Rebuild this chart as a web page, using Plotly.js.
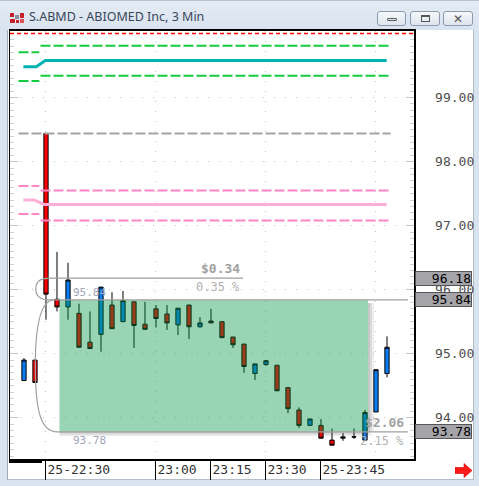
<!DOCTYPE html>
<html>
<head>
<meta charset="utf-8">
<script src="https://cdn.plot.ly/plotly-3.0.1.min.js"></script>
<style>
  html, body { margin: 0; padding: 0; }
  body { width: 479px; height: 486px; position: relative; overflow: hidden;
         background: #d8e3f0; font-family: "Noto Sans", "DejaVu Sans", sans-serif; }
  #titlebar { position: absolute; left: 0; top: 0; width: 479px; height: 30px;
              background: linear-gradient(#e4ebf4, #d9e3ef); border-top: 1px solid #b9c4d2; box-sizing: border-box; }
  #title { position: absolute; left: 29px; top: 7px; font-size: 12.5px; color: #3a4658; white-space: nowrap; }
  .ico { position: absolute; background: #c8202a; }
  .btn { position: absolute; top: 10px; height: 15px; border: 1px solid #8d9aae; border-radius: 3px;
         box-sizing: border-box; background: linear-gradient(#f6f8fb, #dde5ee); }
  #client { position: absolute; left: 7px; top: 30px; width: 467px; height: 450px; background: #fff;
            border-left: 1px solid #9ea9b8; border-right: 1px solid #b3bdca; border-bottom: 1px solid #b3bdca; box-sizing: border-box; }
  #chart { position: absolute; left: 0; top: 0; width: 479px; height: 486px; }
  #scrollmark { position: absolute; left: 9px; top: 460px; width: 33px; height: 3px; background: #000; }
  #arrow { position: absolute; left: 455px; top: 463px; }
</style>
</head>
<body>
<div id="titlebar">
  <div class="ico" style="left:10px;top:12px;width:4px;height:4px;"></div>
  <div class="ico" style="left:15px;top:14px;width:4px;height:4px;background:#8a8f99"></div>
  <div class="ico" style="left:20px;top:12px;width:4px;height:5px;"></div>
  <div class="ico" style="left:10px;top:18px;width:5px;height:4px;"></div>
  <div class="ico" style="left:16px;top:19px;width:3px;height:3px;"></div>
  <div class="ico" style="left:20px;top:18px;width:4px;height:4px;background:#e0505a"></div>
  <div id="title">S.ABMD - ABIOMED Inc, 3 Min</div>
  <div class="btn" style="left:377px;width:29px;">
    <div style="position:absolute;left:9px;top:6px;width:10px;height:3px;border:1px solid #555;border-radius:1px;box-sizing:border-box;"></div>
  </div>
  <div class="btn" style="left:410px;width:30px;">
    <div style="position:absolute;left:10px;top:3px;width:9px;height:7px;border:1px solid #555;border-top-width:2px;box-sizing:border-box;"></div>
  </div>
  <div class="btn" style="left:443px;width:30px;">
    <div style="position:absolute;left:0;top:-2px;width:28px;text-align:center;font-size:12px;font-weight:bold;color:#555;">&#x2715;</div>
  </div>
</div>
<div id="client"></div>
<div id="chart"></div>
<div id="scrollmark"></div>
<svg id="arrow" width="18" height="15" viewBox="0 0 18 15">
  <polygon points="0,4.5 9,4.5 9,0.5 17,7.5 9,14.5 9,10.5 0,10.5" fill="#ff1a1a" stroke="#d00000" stroke-width="0.6"/>
</svg>
<script>
// ---- 3-minute bars, S.ABMD ----
const candleTimes = [
  '2021-01-25 22:24', '2021-01-25 22:27', '2021-01-25 22:30', '2021-01-25 22:33',
  '2021-01-25 22:36', '2021-01-25 22:39', '2021-01-25 22:42', '2021-01-25 22:45',
  '2021-01-25 22:48', '2021-01-25 22:51', '2021-01-25 22:54', '2021-01-25 22:57',
  '2021-01-25 23:00', '2021-01-25 23:03', '2021-01-25 23:06', '2021-01-25 23:09',
  '2021-01-25 23:12', '2021-01-25 23:15', '2021-01-25 23:18', '2021-01-25 23:21',
  '2021-01-25 23:24', '2021-01-25 23:27', '2021-01-25 23:30', '2021-01-25 23:33',
  '2021-01-25 23:36', '2021-01-25 23:39', '2021-01-25 23:42', '2021-01-25 23:45',
  '2021-01-25 23:48', '2021-01-25 23:51', '2021-01-25 23:54', '2021-01-25 23:57',
  '2021-01-26 00:00', '2021-01-26 00:03'
];
const openP  = [94.58, 94.90, 98.44, 95.85, 95.73, 95.63, 95.18, 95.30, 95.76, 95.50, 95.81, 95.46,
                95.70, 95.62, 95.45, 95.76, 95.42, 95.51, 95.50, 95.26, 95.15, 94.69, 94.83, 94.82,
                94.47, 94.12, 93.88, 93.88, 93.65, 93.68, 93.70, 93.65, 94.09, 94.69];
const highP  = [94.93, 94.90, 98.44, 96.59, 96.42, 95.78, 95.66, 96.04, 95.96, 95.98, 95.81, 95.81,
                95.76, 95.76, 95.71, 95.76, 95.57, 95.70, 95.50, 95.26, 95.15, 94.84, 94.90, 94.82,
                94.47, 94.16, 93.98, 93.98, 93.83, 93.76, 93.83, 94.12, 94.75, 95.27];
const lowP   = [94.58, 94.55, 95.53, 95.66, 95.53, 95.10, 95.08, 95.03, 95.39, 95.50, 95.09, 95.38,
                95.41, 95.37, 95.29, 95.23, 95.41, 95.48, 95.25, 95.09, 94.70, 94.59, 94.81, 94.42,
                94.07, 93.84, 93.88, 93.68, 93.57, 93.64, 93.67, 93.65, 94.09, 94.63];
const closeP = [94.90, 94.55, 95.93, 95.73, 96.15, 95.10, 95.08, 96.04, 95.39, 95.83, 95.44, 95.38,
                95.55, 95.48, 95.71, 95.42, 95.48, 95.48, 95.25, 95.14, 94.80, 94.84, 94.89, 94.42,
                94.14, 93.88, 93.98, 93.68, 93.57, 93.70, 93.70, 94.08, 94.75, 95.10];

// ---- band levels (old session segment, gap, new session segment) ----
const levelTimes  = ['2021-01-25 22:22:30', '2021-01-25 22:28:10', null, '2021-01-25 22:28:30', '2021-01-26 00:04:00'];
const greenUpper  = [99.71, 99.71, null, 99.81, 99.81];
const greenLower  = [99.26, 99.26, null, 99.34, 99.34];
const pinkUpper   = [97.62, 97.62, null, 97.55, 97.55];
const pinkLower   = [97.18, 97.18, null, 97.08, 97.08];
const grayTimes   = ['2021-01-25 22:22:30', '2021-01-26 00:04:00'];
const grayLevel   = [98.44, 98.44];
const tealTimes   = ['2021-01-25 22:23:50', '2021-01-25 22:27:20', '2021-01-25 22:29:50', '2021-01-26 00:02:55'];
const tealMid     = [99.48, 99.48, 99.58, 99.58];
const pinkMidTimes = ['2021-01-25 22:23:50', '2021-01-25 22:26:50', '2021-01-25 22:29:30', '2021-01-26 00:02:55'];
const pinkMid     = [97.40, 97.40, 97.33, 97.33];
const topAlert    = 100.00;

// ---- price tags on the right scale ----
const priceTags = [96.18, 95.84, 93.78];

// ---- measuring tool: [upper, lower] price pairs ----
const measureA = [96.18, 95.84];
const measureB = [95.84, 93.78];
const boxTimes = ['2021-01-25 22:33:40', '2021-01-25 23:57:50'];

// ---- axes ----
const xRange = ['2021-01-25 22:20:11', '2021-01-26 00:10:22'];
const yRange = [93.355, 100.04];
const tickTimes  = ['2021-01-25 22:30', '2021-01-25 23:00', '2021-01-25 23:15', '2021-01-25 23:30', '2021-01-25 23:45'];
const tickLabels = ['25-22:30', '23:00', '23:15', '23:30', '25-23:45'];
const yTicks = [94, 95, 96, 97, 98, 99];

const mono = 'DejaVu Sans Mono, Liberation Mono, monospace';
const p = s => s.replace(' ', '_');   // date format used inside shape paths

function levelTrace(x, y, color, width, dash) {
  return { type: 'scatter', mode: 'lines', x: x, y: y, connectgaps: false, hoverinfo: 'skip',
           line: { color: color, width: width, dash: dash } };
}

const traces = [
  levelTrace(levelTimes, greenUpper, '#14cc40', 2, '10px,3px'),
  levelTrace(levelTimes, greenLower, '#14cc40', 2, '10px,3px'),
  levelTrace(tealTimes, tealMid, '#00b2b4', 3, 'solid'),
  levelTrace(grayTimes, grayLevel, '#a4a4a4', 2, '10px,3px'),
  levelTrace(levelTimes, pinkUpper, '#ff86c6', 2, '10px,3px'),
  levelTrace(levelTimes, pinkLower, '#ff86c6', 2, '10px,3px'),
  levelTrace(pinkMidTimes, pinkMid, '#ffaed8', 3, 'solid'),
  {
    type: 'candlestick', x: candleTimes, open: openP, high: highP, low: lowP, close: closeP,
    increasing: { fillcolor: '#0a7df5', line: { color: '#000000', width: 1 } },
    decreasing: { fillcolor: '#ff0000', line: { color: '#000000', width: 1 } },
    whiskerwidth: 0, hoverinfo: 'skip'
  }
];

// measuring box: translucent green with a soft drop shadow
const shapes = [
  { type: 'line', xref: 'paper', x0: 0, x1: 1, yref: 'y', y0: topAlert, y1: topAlert,
    line: { color: '#ff0000', width: 1.5, dash: '4px,3px' }, layer: 'above' }
];
const shadowLevels = [0.32, 0.2, 0.1];
shadowLevels.forEach((op, i) => {
  shapes.push({ type: 'rect', xref: 'x', xsizemode: 'pixel', xanchor: boxTimes[1], x0: i * 2, x1: i * 2 + 2,
    yref: 'y', y0: measureB[1], y1: measureB[0] - 0.05, fillcolor: '#505050', opacity: op,
    line: { width: 0 }, layer: 'above' });
  shapes.push({ type: 'rect', xref: 'x', x0: boxTimes[0], x1: boxTimes[1],
    yref: 'y', ysizemode: 'pixel', yanchor: measureB[1], y0: -i * 1.5, y1: -i * 1.5 - 1.5,
    fillcolor: '#505050', opacity: op, line: { width: 0 }, layer: 'above' });
  shapes.push({ type: 'rect', xref: 'x', xsizemode: 'pixel', xanchor: boxTimes[1], x0: 0, x1: i * 2 + 2,
    yref: 'y', ysizemode: 'pixel', yanchor: measureB[1], y0: -i * 1.5, y1: -i * 1.5 - 1.5,
    fillcolor: '#505050', opacity: op * 0.6, line: { width: 0 }, layer: 'above' });
});
shapes.push({ type: 'rect', xref: 'x', x0: boxTimes[0], x1: boxTimes[1], yref: 'y',
  y0: measureB[1], y1: measureB[0], fillcolor: 'rgb(0,150,67)', opacity: 0.4,
  line: { width: 0 }, layer: 'above' });

// outline of the first measurement (rounded left end)
shapes.push({ type: 'path', xref: 'x', yref: 'y', layer: 'above',
  line: { color: '#a0a0a0', width: 1.2 },
  path: 'M' + p('2021-01-25 23:23:46') + ',' + measureA[0] +
        ' L' + p('2021-01-25 22:30:54') + ',' + measureA[0] +
        ' C' + p('2021-01-25 22:28:10') + ',' + measureA[0] + ' ' + p('2021-01-25 22:27:13') + ',96.10 ' + p('2021-01-25 22:27:13') + ',96.01' +
        ' C' + p('2021-01-25 22:27:13') + ',95.92 ' + p('2021-01-25 22:28:10') + ',' + measureA[1] + ' ' + p('2021-01-25 22:30:54') + ',' + measureA[1] +
        ' L' + p('2021-01-26 00:08:43') + ',' + measureA[1] });
// outline of the second measurement (long arc down to the low)
shapes.push({ type: 'path', xref: 'x', yref: 'y', layer: 'above',
  line: { color: '#a0a0a0', width: 1.2 },
  path: 'M' + p('2021-01-25 22:32:16') + ',' + measureB[0] +
        ' C' + p('2021-01-25 22:28:43') + ',' + measureB[0] + ' ' + p('2021-01-25 22:27:05') + ',95.45 ' + p('2021-01-25 22:27:05') + ',94.81' +
        ' C' + p('2021-01-25 22:27:05') + ',94.20 ' + p('2021-01-25 22:28:10') + ',' + measureB[1] + ' ' + p('2021-01-25 22:32:49') + ',' + measureB[1] +
        ' L' + p('2021-01-26 00:08:43') + ',' + measureB[1] });

const diffA = measureA[0] - measureA[1];
const diffB = measureB[0] - measureB[1];
const annotations = [];
priceTags.forEach(v => {
  annotations.push({ xref: 'paper', x: 1, xanchor: 'left', xshift: 1, yref: 'y', y: v, yanchor: 'middle',
    text: v.toFixed(2), showarrow: false, width: 55, height: 13, align: 'right',
    bgcolor: '#a5a5a9', bordercolor: '#55555a', borderwidth: 1, borderpad: 0,
    font: { family: mono, size: 13, color: '#000' } });
});
const gray1 = '#a2a2a2', gray2 = '#b2b2b2', steel = '#a3a8b8';
annotations.push(
  { x: '2021-01-25 22:36:54', xanchor: 'left', y: measureA[1], yanchor: 'bottom', yshift: -1,
    text: measureA[1].toFixed(2), showarrow: false, font: { family: mono, size: 11, color: steel } },
  { x: '2021-01-25 22:36:54', xanchor: 'left', y: measureB[1], yanchor: 'top',
    text: measureB[1].toFixed(2), showarrow: false, font: { family: mono, size: 11, color: steel } },
  { x: '2021-01-25 23:23:29', xanchor: 'right', y: measureA[0], yanchor: 'bottom',
    text: '<b>$' + diffA.toFixed(2) + '</b>', showarrow: false, font: { family: mono, size: 13, color: gray1 } },
  { x: '2021-01-25 23:23:29', xanchor: 'right', y: measureA[0], yanchor: 'top',
    text: (diffA / measureA[0] * 100).toFixed(2) + ' %', showarrow: false, font: { family: mono, size: 12, color: gray2 } },
  { x: '2021-01-26 00:08:10', xanchor: 'right', y: measureB[1], yanchor: 'bottom',
    text: '<b>$' + diffB.toFixed(2) + '</b>', showarrow: false, font: { family: mono, size: 13, color: gray1 } },
  { x: '2021-01-26 00:08:10', xanchor: 'right', y: measureB[1], yanchor: 'top',
    text: (diffB / measureB[0] * 100).toFixed(2) + ' %', showarrow: false, font: { family: mono, size: 12, color: gray2 } }
);

const layout = {
  width: 479, height: 486,
  margin: { l: 10, r: 65, t: 31, b: 27, pad: 0 },
  paper_bgcolor: 'rgba(0,0,0,0)', plot_bgcolor: '#ffffff',
  showlegend: false, boxgap: 0.45, hovermode: false,
  xaxis: {
    type: 'date', range: xRange, rangeslider: { visible: false }, fixedrange: true,
    tickmode: 'array', tickvals: tickTimes, ticktext: tickLabels, tickangle: 0,
    ticks: 'outside', ticklen: 19, tickwidth: 1, tickcolor: '#000',
    ticklabelposition: 'outside right', ticklabelstandoff: -3,
    tickfont: { family: mono, size: 13, color: '#333' },
    showgrid: false, zeroline: false,
    minor: { dtick: 1800000, tick0: '2021-01-25 22:00', showgrid: true, gridcolor: '#c4c4c4',
             griddash: '1px,9px', gridwidth: 1, ticks: '' },
    showline: true, linecolor: '#000', linewidth: 2, mirror: true
  },
  yaxis: {
    side: 'right', range: yRange, fixedrange: true,
    tickmode: 'array', tickvals: yTicks, tickformat: '.2f',
    showgrid: true, gridcolor: '#c4c4c4', griddash: '1px,10px', gridwidth: 1, zeroline: false,
    ticks: 'inside', ticklen: 8, tickwidth: 1, tickcolor: '#c4c4c4',
    minor: { dtick: 0.1, tick0: 0, ticks: 'inside', ticklen: 4, tickcolor: '#d2d2d2', showgrid: false },
    ticklabelstandoff: 17,
    tickfont: { family: mono, size: 13, color: '#4e4e4e' },
    showline: true, linecolor: '#000', linewidth: 1.5, mirror: 'ticks'
  },
  shapes: shapes,
  annotations: annotations
};

Plotly.newPlot('chart', traces, layout, { displayModeBar: false, staticPlot: true });
</script>
</body>
</html>
